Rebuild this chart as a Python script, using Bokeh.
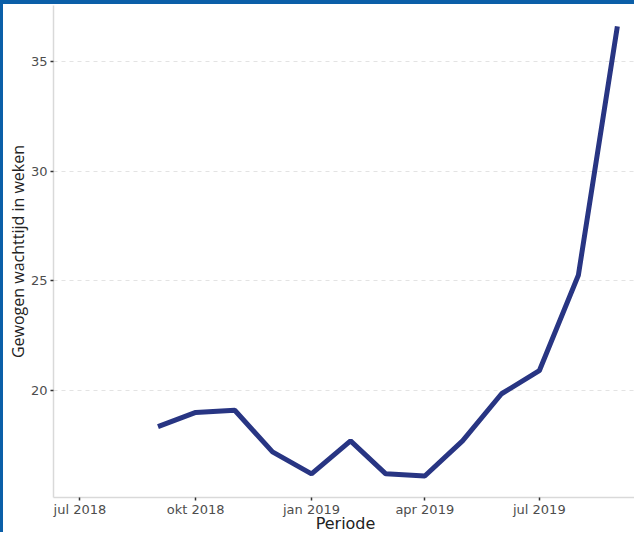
from datetime import datetime
from bokeh.plotting import figure
from bokeh.models import FixedTicker, Range1d, ColumnDataSource
from bokeh.embed import file_html
from bokeh.resources import INLINE

# ---- data ----
periods = ["2018-09-01", "2018-10-01", "2018-11-01", "2018-12-01", "2019-01-01",
           "2019-02-01", "2019-03-01", "2019-04-01", "2019-05-01", "2019-06-01",
           "2019-07-01", "2019-08-01", "2019-09-01"]
wait_weeks = [18.35, 19.0, 19.1, 17.2, 16.2, 17.7, 16.2, 16.1, 17.7, 19.85, 20.9, 25.25, 36.6]

tick_dates = ["2018-07-01", "2018-10-01", "2019-01-01", "2019-04-01", "2019-07-01"]
tick_labels = ["jul 2018", "okt 2018", "jan 2019", "apr 2019", "jul 2019"]
y_ticks = [20, 25, 30, 35]


def ms(s):
    return datetime.strptime(s, "%Y-%m-%d").timestamp() * 1000.0


x = [datetime.strptime(s, "%Y-%m-%d") for s in periods]
src = ColumnDataSource(dict(x=x, y=wait_weeks))

p = figure(width=634, height=532, x_axis_type="datetime",
           output_backend="svg", toolbar_location=None,
           x_range=Range1d(ms("2018-06-10"), ms("2019-09-17")),
           y_range=Range1d(15.12, 37.55),
           min_border_left=50, min_border_right=0, min_border_top=1,
           min_border_bottom=39)
p.styles = {"border-top": "4px solid #0b5fa8", "border-left": "3px solid #0b5fa8"}

p.line("x", "y", source=src, line_color="#283583", line_width=5, line_cap="butt")

p.outline_line_color = None
p.background_fill_color = "white"
p.border_fill_color = "white"

# grid
p.xgrid.grid_line_color = None
p.ygrid.grid_line_color = "#e3e3e3"
p.ygrid.grid_line_dash = "4 4"
p.ygrid.grid_line_width = 1

# x axis
tk = [ms(s) for s in tick_dates]
p.xaxis.ticker = FixedTicker(ticks=tk)
p.xaxis.major_label_overrides = {t: l for t, l in zip(tk, tick_labels)}
p.xaxis.axis_label = "Periode"
# y axis
p.yaxis.ticker = FixedTicker(ticks=y_ticks)
p.yaxis.axis_label = "Gewogen wachttijd in weken"

for ax in (p.xaxis[0], p.yaxis[0]):
    ax.axis_line_color = "#d9d9d9"
    ax.axis_line_width = 1.5
    ax.major_tick_line_color = "#333333"
    ax.major_tick_line_width = 1.5
    ax.major_tick_in = 0
    ax.major_tick_out = 3
    ax.minor_tick_line_color = None
    ax.major_label_text_font = "DejaVu Sans"
    ax.major_label_text_font_size = "13px"
    ax.major_label_text_color = "#4d4d4d"
    ax.axis_label_text_font_style = "normal"
    ax.axis_label_text_color = "#222222"

p.xaxis.major_label_standoff = 1
p.xaxis.axis_label_standoff = -6
p.xaxis.axis_label_text_font = "DejaVu Sans"
p.xaxis.axis_label_text_font_size = "16px"
p.yaxis.major_label_standoff = 3
p.yaxis.axis_label_standoff = -1
p.yaxis.axis_label_text_font = "Open Sans"
p.yaxis.axis_label_text_font_size = "16px"

open("out.html", "w").write(file_html(p, INLINE))
